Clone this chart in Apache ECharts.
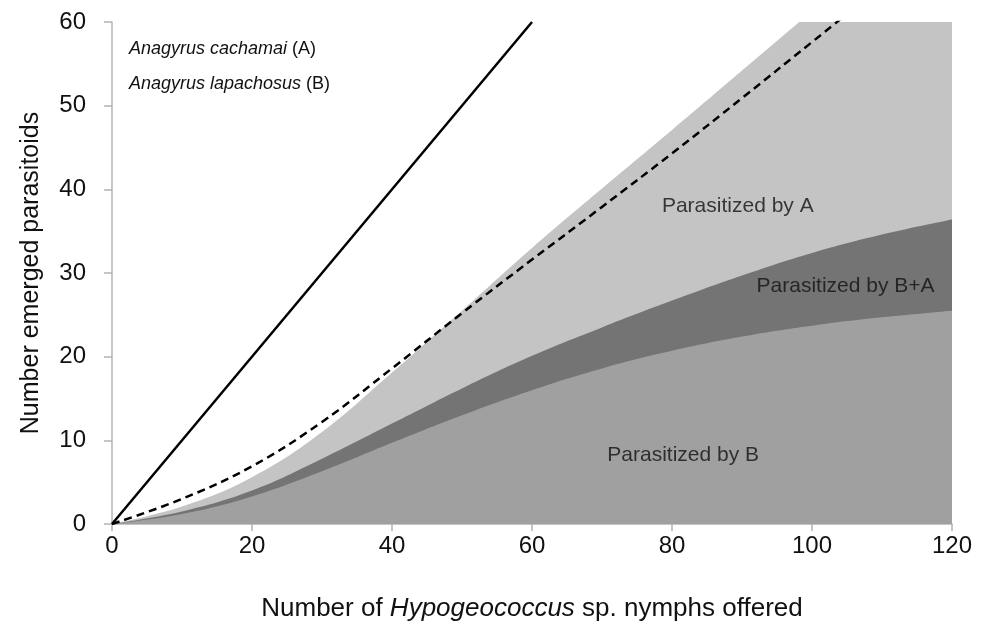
<!DOCTYPE html>
<html style="height: 100%">
    <head>
        <meta charset="utf-8">
    </head>
    <body style="height: 100%; margin: 0">
        <div id="container" style="height: 627px; width: 982px;"></div>

        <script type="text/javascript" src="https://cdn.jsdelivr.net/npm/echarts@6/dist/echarts.min.js"></script>
        <script type="text/javascript">
var dom = document.getElementById("container");
var myChart = echarts.init(dom);

// nymphs offered
var xs = [0, 10, 20, 30, 40, 50, 60, 70, 80, 90, 100, 110, 120];
// upper edge of "Parasitized by A" (light grey)
var topA = [0, 2.1, 5.6, 11.0, 18.1, 25.5, 33.0, 40.1, 47.1, 54.2, 61.3, 68.4, 75.5];
// upper edge of "Parasitized by B+A" (dark grey)
var topBA = [0, 1.5, 4.0, 7.8, 12.0, 16.2, 20.1, 23.5, 26.7, 29.7, 32.4, 34.6, 36.4];
// upper edge of "Parasitized by B" (mid grey)
var topB = [0, 1.2, 3.3, 6.3, 9.7, 13.0, 16.0, 18.6, 20.7, 22.4, 23.7, 24.7, 25.5];
// dashed curve
var dashed = [0, 3.0, 6.9, 12.2, 18.6, 25.2, 31.6, 37.9, 44.3, 50.9, 57.6, 64.3, 71.0];
// solid 1:1 line
var solidX = [0, 60];
var solidY = [0, 60];

var regionNames = ['Parasitized by A', 'Parasitized by B+A', 'Parasitized by B'];
var regionX = [89.4, 104.8, 81.6];
var regionY = [38.0, 28.4, 8.2];

const FONT = 'Liberation Sans, Arial, sans-serif';

function pairs(a, b) {
	return a.map(function (e, i) { return [e, b[i]]; });
}

function areaSeries(name, ys, color) {
	return {
		name: name,
		type: 'line',
		data: pairs(xs, ys),
		smooth: 0.4,
		symbol: 'none',
		lineStyle: {width: 0},
		areaStyle: {color: color, opacity: 1},
		silent: true
	};
}

var option = {
	animation: false,
	grid: {left: 112, right: 30, top: 22, bottom: 100},
	xAxis: {
		type: 'value',
		min: 0,
		max: 120,
		interval: 20,
		axisLine: {show: true, lineStyle: {color: '#b3b3b3', width: 1.5}},
		axisTick: {show: true, length: 7, lineStyle: {color: '#b3b3b3', width: 1.5}},
		splitLine: {show: false},
		axisLabel: {fontSize: 24, color: '#111', fontFamily: FONT, margin: 10},
		name: 'Number of {i|Hypogeococcus} sp. nymphs offered',
		nameLocation: 'middle',
		nameGap: 72,
		nameTextStyle: {
			fontSize: 26, color: '#111', fontFamily: FONT,
			rich: {i: {fontSize: 26, fontStyle: 'italic', color: '#111', fontFamily: FONT}}
		}
	},
	yAxis: {
		type: 'value',
		min: 0,
		max: 60,
		interval: 10,
		axisLine: {show: true, lineStyle: {color: '#b3b3b3', width: 1.5}},
		axisTick: {show: true, length: 8, lineStyle: {color: '#b3b3b3', width: 1.5}},
		splitLine: {show: false},
		axisLabel: {fontSize: 24, color: '#111', fontFamily: FONT, margin: 26},
		name: 'Number emerged parasitoids',
		nameLocation: 'middle',
		nameGap: 68,
		nameTextStyle: {fontSize: 25, color: '#111', fontFamily: FONT}
	},
	graphic: [
		{
			type: 'text', left: 129, top: 40,
			style: {
				text: '{i|Anagyrus cachamai} (A)',
				fontSize: 18, fill: '#111', fontFamily: FONT,
				rich: {i: {fontSize: 18, fontStyle: 'italic', fill: '#111', fontFamily: FONT}}
			}
		},
		{
			type: 'text', left: 129, top: 75,
			style: {
				text: '{i|Anagyrus lapachosus} (B)',
				fontSize: 18, fill: '#111', fontFamily: FONT,
				rich: {i: {fontSize: 18, fontStyle: 'italic', fill: '#111', fontFamily: FONT}}
			}
		}
	],
	series: [
		areaSeries('A', topA, '#c4c4c4'),
		areaSeries('B+A', topBA, '#747474'),
		areaSeries('B', topB, '#a0a0a0'),
		{
			type: 'line',
			data: pairs(xs, dashed),
			smooth: 0.4,
			symbol: 'none',
			lineStyle: {color: '#000', width: 2.5, type: [8, 5]},
			z: 5
		},
		{
			type: 'line',
			data: pairs(solidX, solidY),
			symbol: 'none',
			lineStyle: {color: '#000', width: 2.5},
			z: 5
		},
		{
			type: 'scatter',
			symbolSize: 0,
			silent: true,
			data: regionNames.map(function (n, i) {
				return {name: n, value: [regionX[i], regionY[i]]};
			}),
			label: {
				show: true,
				position: 'inside',
				formatter: '{b}',
				fontSize: 21,
				color: '#111',
				fontFamily: FONT
			},
			z: 6
		}
	]
};

myChart.setOption(option);
        </script>
    </body>
</html>
